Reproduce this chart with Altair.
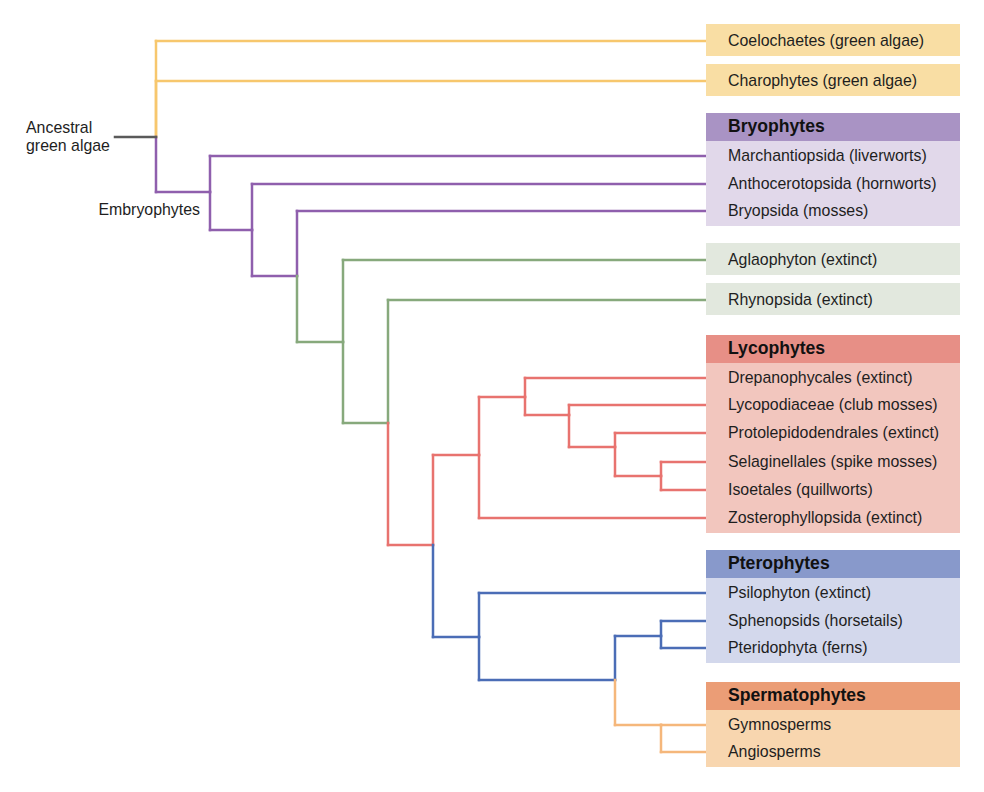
import altair as alt
import pandas as pd

# ---------------- data ----------------
leaf_ids = ["coelo", "charo", "march", "antho", "bryop", "aglao", "rhyno",
            "drep", "lycop", "proto", "selag", "isoet", "zost",
            "psilo", "sphen", "pteri", "gymno", "angio"]
leaf_names = ["Coelochaetes (green algae)", "Charophytes (green algae)",
              "Marchantiopsida (liverworts)", "Anthocerotopsida (hornworts)",
              "Bryopsida (mosses)", "Aglaophyton (extinct)", "Rhynopsida (extinct)",
              "Drepanophycales (extinct)", "Lycopodiaceae (club mosses)",
              "Protolepidodendrales (extinct)", "Selaginellales (spike mosses)",
              "Isoetales (quillworts)", "Zosterophyllopsida (extinct)",
              "Psilophyton (extinct)", "Sphenopsids (horsetails)", "Pteridophyta (ferns)",
              "Gymnosperms", "Angiosperms"]
leaf_rows = [41, 81, 156, 184, 211, 260, 300, 378, 405, 433, 462, 490, 518,
             593, 621, 648, 725, 752]
leaf_groups = ["algae", "algae", "bryo", "bryo", "bryo", "green", "green",
               "lyco", "lyco", "lyco", "lyco", "lyco", "lyco",
               "ptero", "ptero", "ptero", "sperm", "sperm"]

node_ids = ["root", "embryo", "n2", "n3", "n4", "n5", "n6", "lyc", "l1", "l2",
            "l3", "l4", "eu", "p2", "p3", "sp"]
node_depth = [156, 210, 252, 297, 343, 388, 433, 479, 525, 569, 615, 661,
              479, 615, 661, 661]
node_rows = [137, 192, 230, 276, 342, 423, 545, 455, 397, 415, 447, 476,
             637, 680, 636, 725]
node_groups = ["algae", "bryo", "bryo", "bryo", "green", "green", "lyco", "lyco",
               "lyco", "lyco", "lyco", "lyco", "ptero", "ptero", "ptero", "sperm"]

edge_parent = ["root", "root", "root", "embryo", "embryo", "n2", "n2", "n3", "n3",
               "n4", "n4", "n5", "n5", "n6", "n6", "lyc", "lyc", "l1", "l1",
               "l2", "l2", "l3", "l3", "l4", "l4", "eu", "eu", "p2", "p2",
               "p3", "p3", "sp", "sp"]
edge_child = ["coelo", "charo", "embryo", "march", "n2", "antho", "n3", "bryop", "n4",
              "aglao", "n5", "rhyno", "n6", "lyc", "eu", "l1", "zost", "drep", "l2",
              "lycop", "l3", "proto", "l4", "selag", "isoet", "psilo", "p2", "p3", "sp",
              "sphen", "pteri", "gymno", "angio"]

group_keys = ["root", "algae", "bryo", "green", "lyco", "ptero", "sperm"]
group_titles = ["", "", "Bryophytes", "", "Lycophytes", "Pterophytes", "Spermatophytes"]
line_colors = ["#5a5a5a", "#f7c76d", "#8f5fad", "#87a97c", "#e8736f", "#4b6db6", "#f5b77b"]
head_colors = ["#ffffff", "#f9dea4", "#a993c4", "#e2e8de", "#e78f86", "#8899cb", "#eb9d76"]
body_colors = ["#ffffff", "#f9dea4", "#e1d8ea", "#e2e8de", "#f2c6be", "#d3d8ec", "#f8d6af"]

# ---------------- layout constants ----------------
TIP = 706
BOX_RIGHT = 960
TEXT_X = TIP + 22
STUB = 41
FONT = "Liberation Sans"
LEAF_SIZE = 15.9
HEAD_SIZE = 17.6

pos = {}
for i, y, g in zip(leaf_ids, leaf_rows, leaf_groups):
    pos[i] = (TIP, y, g)
for i, x, y, g in zip(node_ids, node_depth, node_rows, node_groups):
    pos[i] = (x, y, g)

segs = []
for p, c in zip(edge_parent, edge_child):
    px, py, _ = pos[p]
    cx, cy, cg = pos[c]
    segs.append(dict(x=px, x2=px, y=py, y2=cy, g=cg))
    segs.append(dict(x=px, x2=cx, y=cy, y2=cy, g=cg))
rx, ry, _ = pos["root"]
segs.append(dict(x=rx - STUB, x2=rx, y=ry, y2=ry, g="root"))
seg_df = pd.DataFrame(segs)

rects = []
labels = []
for gk, title, hc, bc in zip(group_keys, group_titles, head_colors, body_colors):
    rows = [y for y, g in zip(leaf_rows, leaf_groups) if g == gk]
    if not rows:
        continue
    if title:
        first, last = rows[0], rows[-1]
        rects.append(dict(x=TIP, x2=BOX_RIGHT, y=first - 43, y2=first - 15, fill=hc))
        rects.append(dict(x=TIP, x2=BOX_RIGHT, y=first - 15, y2=last + 15, fill=bc))
        labels.append(dict(x=TEXT_X, y=first - 29, t=title, w="bold"))
    else:
        for r in rows:
            rects.append(dict(x=TIP, x2=BOX_RIGHT, y=r - 17, y2=r + 15, fill=bc))
rect_df = pd.DataFrame(rects)

for n, y in zip(leaf_names, leaf_rows):
    labels.append(dict(x=TEXT_X, y=y, t=n, w="normal"))
label_df = pd.DataFrame(labels)

ann_df = pd.DataFrame([
    dict(x=rx - STUB - 89, y=ry - 9, t="Ancestral", a="left"),
    dict(x=rx - STUB - 89, y=ry + 9, t="green algae", a="left"),
    dict(x=pos["embryo"][0] - 10, y=pos["embryo"][1] + 18, t="Embryophytes", a="right"),
])

# ---------------- scales ----------------
xs = alt.Scale(domain=[8, 976], nice=False, zero=False)
ys = alt.Scale(domain=[8, 784], nice=False, zero=False, reverse=True)

lines = alt.Chart(seg_df).mark_rule(strokeWidth=2.5, strokeCap="square").encode(
    x=alt.X("x:Q", scale=xs, axis=None),
    x2="x2:Q",
    y=alt.Y("y:Q", scale=ys, axis=None),
    y2="y2:Q",
    color=alt.Color("g:N", scale=alt.Scale(domain=group_keys, range=line_colors), legend=None),
)

boxes = alt.Chart(rect_df).mark_rect().encode(
    x=alt.X("x:Q", scale=xs, axis=None),
    x2="x2:Q",
    y=alt.Y("y:Q", scale=ys, axis=None),
    y2="y2:Q",
    fill=alt.Fill("fill:N", scale=None),
)

leaf_text = alt.Chart(label_df[label_df.w == "normal"]).mark_text(
    align="left", baseline="middle", font=FONT, fontSize=LEAF_SIZE, color="#1e1e1e"
).encode(
    x=alt.X("x:Q", scale=xs, axis=None),
    y=alt.Y("y:Q", scale=ys, axis=None),
    text="t:N",
)

head_text = alt.Chart(label_df[label_df.w == "bold"]).mark_text(
    align="left", baseline="middle", font=FONT, fontSize=HEAD_SIZE, fontWeight="bold",
    color="#111111"
).encode(
    x=alt.X("x:Q", scale=xs, axis=None),
    y=alt.Y("y:Q", scale=ys, axis=None),
    text="t:N",
)

ann_left = alt.Chart(ann_df[ann_df.a == "left"]).mark_text(
    align="left", baseline="middle", font=FONT, fontSize=LEAF_SIZE, color="#1e1e1e"
).encode(
    x=alt.X("x:Q", scale=xs, axis=None),
    y=alt.Y("y:Q", scale=ys, axis=None),
    text="t:N",
)
ann_right = alt.Chart(ann_df[ann_df.a == "right"]).mark_text(
    align="right", baseline="middle", font=FONT, fontSize=LEAF_SIZE, color="#1e1e1e"
).encode(
    x=alt.X("x:Q", scale=xs, axis=None),
    y=alt.Y("y:Q", scale=ys, axis=None),
    text="t:N",
)

chart = alt.layer(lines, boxes, leaf_text, head_text, ann_left, ann_right).properties(
    width=968, height=776, padding=0, background="white",
    autosize=alt.AutoSizeParams(type="none"),
).configure_view(stroke=None, strokeWidth=0)

chart.save("out.html", embed_options={"renderer": "svg", "actions": False})
